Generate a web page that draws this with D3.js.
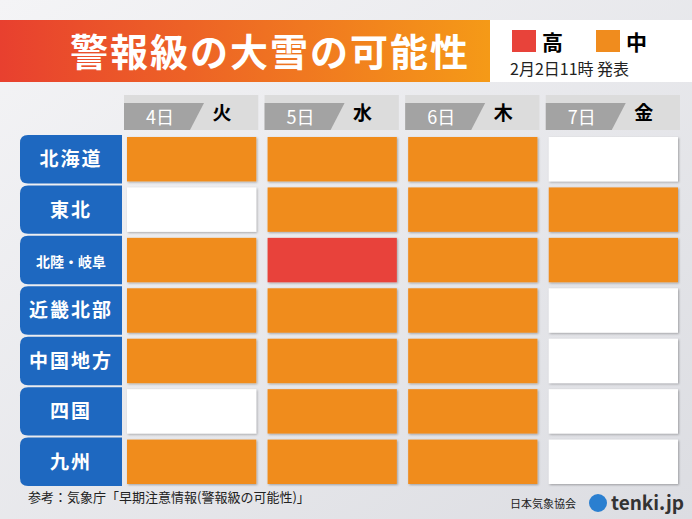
<!DOCTYPE html>
<html><head><meta charset="utf-8">
<script src="https://cdn.jsdelivr.net/npm/d3@7"></script>
<style>body{margin:0;overflow:hidden}text{font-family:"Noto Sans CJK JP",sans-serif}</style>
</head><body>
<svg id="c" width="692" height="519"></svg>
<script>
// data: 2 = 高, 1 = 中, 0 = none
var regions = ["北海道", "東北", "北陸・岐阜", "近畿北部", "中国地方", "四国", "九州"];
var dates = ["4日", "5日", "6日", "7日"];
var weekdays = ["火", "水", "木", "金"];
var levels = [
  [1, 1, 1, 0],
  [0, 1, 1, 1],
  [1, 2, 1, 1],
  [1, 1, 1, 0],
  [1, 1, 1, 0],
  [0, 1, 1, 0],
  [1, 1, 1, 0]
];
var levelColor = ["#ffffff", "#f08c1e", "#e8433a"];

var svg = d3.select("#c");
var defs = svg.append("defs");
var bg = defs.append("linearGradient").attr("id", "bg").attr("x1", 0).attr("x2", 1).attr("y1", 0).attr("y2", 1);
bg.append("stop").attr("offset", 0).attr("stop-color", "#f4f4f6");
bg.append("stop").attr("offset", 1).attr("stop-color", "#dcdde2");
var tg = defs.append("linearGradient").attr("id", "tg");
tg.append("stop").attr("offset", 0).attr("stop-color", "#e8402f");
tg.append("stop").attr("offset", 1).attr("stop-color", "#f59a17");
var sh = defs.append("filter").attr("id", "sh");
sh.append("feDropShadow").attr("dx", 1).attr("dy", 1).attr("stdDeviation", 1.2).attr("flood-opacity", 0.3);

svg.append("rect").attr("width", 692).attr("height", 519).attr("fill", "url(#bg)");

// title banner
svg.append("rect").attr("x", 0).attr("y", 20).attr("width", 490).attr("height", 62).attr("fill", "url(#tg)");
svg.append("text").attr("x", 470).attr("y", 66).attr("text-anchor", "end").attr("fill", "#fff")
  .attr("font-size", 38).attr("font-weight", 700).attr("letter-spacing", 2).text("警報級の大雪の可能性");
svg.append("rect").attr("x", 490).attr("y", 20).attr("width", 202).attr("height", 62).attr("fill", "#fff");
[["高", 2, 512], ["中", 1, 596]].forEach(function (d) {
  svg.append("rect").attr("x", d[2]).attr("y", 30).attr("width", 24).attr("height", 22).attr("fill", levelColor[d[1]]);
  svg.append("text").attr("x", d[2] + 30).attr("y", 50).attr("font-size", 21).attr("font-weight", 700).text(d[0]);
});
svg.append("text").attr("x", 510).attr("y", 75).attr("font-size", 16).attr("fill", "#222").text("2月2日11時 発表");

var x = d3.scaleBand().domain(dates).range([124, 680]).paddingInner(0.045);
var y = d3.scaleBand().domain(regions).range([135, 486]).paddingInner(0.04);

// day headers
var hd = svg.append("g").selectAll("g").data(dates).join("g")
  .attr("transform", function (d) { return "translate(" + x(d) + ",95)"; });
hd.append("rect").attr("width", x.bandwidth()).attr("height", 35).attr("fill", "#dcdcdc");
hd.append("path").attr("d", "M0,8H80L66,35H0Z").attr("fill", "#a3a3a3");
hd.append("text").attr("x", 36).attr("y", 29).attr("text-anchor", "middle").attr("fill", "#fff").attr("font-size", 18).text(function (d) { return d; });
hd.append("text").attr("x", 98).attr("y", 25).attr("text-anchor", "middle").attr("font-size", 19).attr("font-weight", 700)
  .text(function (d, i) { return weekdays[i]; });

// region labels
var rl = svg.append("g").selectAll("g").data(regions).join("g")
  .attr("transform", function (d) { return "translate(20," + y(d) + ")"; });
rl.append("path").attr("fill", "#1e68c0")
  .attr("d", function () { var h = y.bandwidth(); return "M8,0H102V" + h + "H8Q0," + h + " 0," + (h - 8) + "V8Q0,0 8,0Z"; });
rl.append("text").attr("x", 51).attr("y", y.bandwidth() / 2 + 7).attr("text-anchor", "middle").attr("fill", "#fff")
  .attr("font-weight", 700).attr("font-size", function (d) { return d.length > 4 ? 14 : 19; })
  .attr("letter-spacing", function (d) { return d.length > 4 ? 0 : 2; }).text(function (d) { return d; });

// cells
var cells = [];
levels.forEach(function (row, r) { row.forEach(function (v, c) { cells.push({ r: regions[r], c: dates[c], v: v }); }); });
svg.append("g").selectAll("rect").data(cells).join("rect")
  .attr("x", function (d) { return x(d.c) + 3; }).attr("y", function (d) { return y(d.r) + 2; })
  .attr("width", x.bandwidth() - 5).attr("height", y.bandwidth() - 4)
  .attr("fill", function (d) { return levelColor[d.v]; }).attr("filter", "url(#sh)");

// footer
svg.append("text").attr("x", 28).attr("y", 502).attr("font-size", 13).attr("fill", "#222").text("参考：気象庁「早期注意情報(警報級の可能性)」");
svg.append("text").attr("x", 510).attr("y", 508).attr("font-size", 11).attr("fill", "#222").text("日本気象協会");
svg.append("circle").attr("cx", 598).attr("cy", 503).attr("r", 9).attr("fill", "#2a7fd0");
svg.append("text").attr("x", 611).attr("y", 510).attr("font-size", 19).attr("font-weight", 700).attr("fill", "#333")
  .attr("font-family", "Roboto, sans-serif").text("tenki.jp");
</script>
</body></html>
